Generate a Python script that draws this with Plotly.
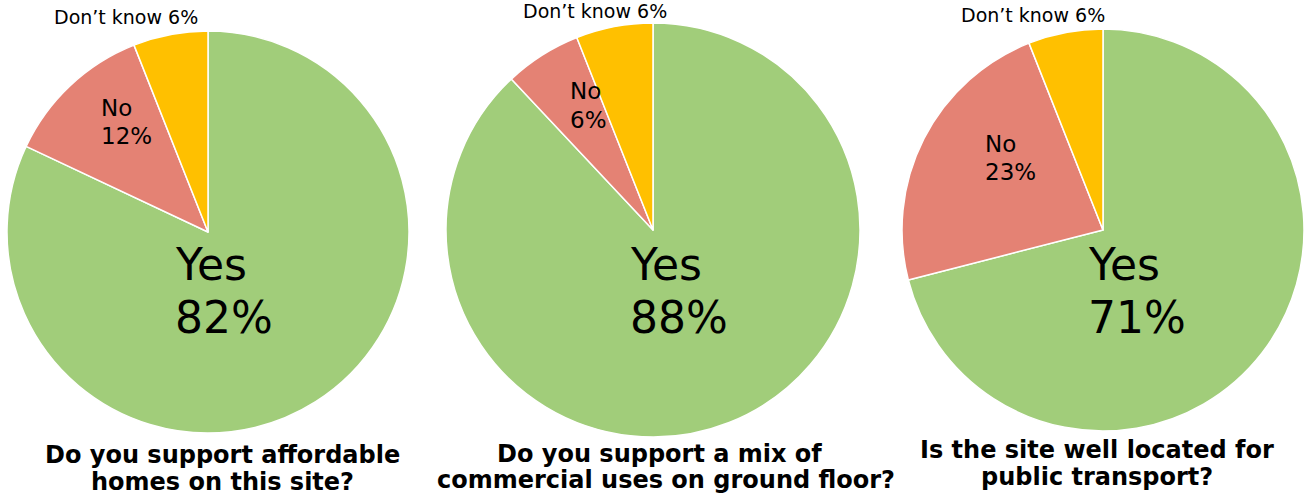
import plotly.graph_objects as go

W, H = 1314, 503

labels = ["Yes", "No", "Don\u2019t know"]
colors = ["#A1CD7A", "#E48274", "#FFC000"]

q1_values = [82, 12, 6]
q2_values = [88, 6, 6]
q3_values = [71, 23, 6]

titles = [
    ["Do you support affordable", "homes on this site?"],
    ["Do you support a mix of", "commercial uses on ground floor?"],
    ["Is the site well located for", "public transport?"],
]

# pie geometry in pixels: (center x, center y, radius)
geom = [(208, 232, 201), (653, 230, 207), (1103, 230, 201)]
# label anchors (pixels)
yes_pos = [(173, 264, 317), (628, 264, 317), (1086, 264, 317)]
no_pos = [(99, 108, 136), (568, 91, 120), (983, 144, 172)]
dk_pos = [(126, 17), (595, 11), (1033, 15)]
title_pos = [((222, 455), (222, 482)), ((659, 454), (666, 480)), ((1097, 450), (1097, 477))]

FONT = "DejaVu Sans, Verdana, sans-serif"

fig = go.Figure()
annotations = []

def px(x):
    return x / W

def py(y):
    return 1 - y / H

def clamp(v):
    return max(0.0, min(1.0, v))

for i, vals in enumerate([q1_values, q2_values, q3_values]):
    cx, cy, r = geom[i]
    fig.add_trace(go.Pie(
        labels=labels,
        values=vals,
        sort=False,
        direction="clockwise",
        rotation=0,
        marker=dict(colors=colors, line=dict(color="white", width=1.5)),
        textinfo="none",
        hoverinfo="label+percent",
        showlegend=False,
        domain=dict(x=[clamp(px(cx - r)), clamp(px(cx + r))],
                    y=[clamp(py(cy + r)), clamp(py(cy - r))]),
    ))
    yx, y1, y2 = yes_pos[i]
    annotations.append(dict(x=px(yx), y=py(y1), text=labels[0], xanchor="left", yanchor="middle",
                            font=dict(size=44, color="black", family=FONT)))
    annotations.append(dict(x=px(yx), y=py(y2), text=f"{vals[0]}%", xanchor="left", yanchor="middle",
                            font=dict(size=44, color="black", family=FONT)))
    nx, n1, n2 = no_pos[i]
    annotations.append(dict(x=px(nx), y=py(n1), text=labels[1], xanchor="left", yanchor="middle",
                            font=dict(size=23, color="black", family=FONT)))
    annotations.append(dict(x=px(nx), y=py(n2), text=f"{vals[1]}%", xanchor="left", yanchor="middle",
                            font=dict(size=23, color="black", family=FONT)))
    dx, dy = dk_pos[i]
    annotations.append(dict(x=px(dx), y=py(dy), text=f"{labels[2]} {vals[2]}%", xanchor="center", yanchor="middle",
                            font=dict(size=19, color="black", family=FONT)))
    for line, (tx, ty) in zip(titles[i], title_pos[i]):
        annotations.append(dict(x=px(tx), y=py(ty), text=f"<b>{line}</b>", xanchor="center", yanchor="middle",
                                font=dict(size=24, color="black", family=FONT)))

for a in annotations:
    a.update(xref="paper", yref="paper", showarrow=False)

fig.update_layout(
    width=W, height=H,
    margin=dict(l=0, r=0, t=0, b=0),
    paper_bgcolor="white", plot_bgcolor="white",
    annotations=annotations,
)

fig.write_html("out.html", config={"displayModeBar": False},
               post_script="document.body.style.margin='0';")
